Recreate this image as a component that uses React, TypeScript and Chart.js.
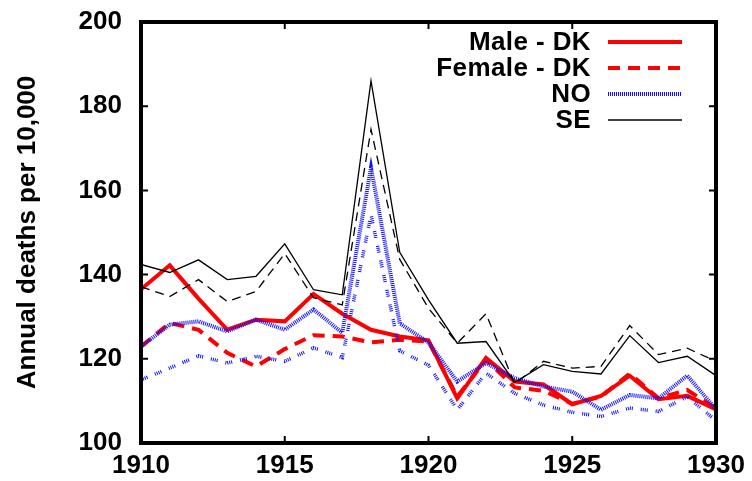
import React, { useEffect, useRef } from "react";
import { Chart, registerables } from "chart.js";

Chart.register(...registerables);

const years = [1910, 1911, 1912, 1913, 1914, 1915, 1916, 1917, 1918, 1919, 1920, 1921, 1922, 1923, 1924, 1925, 1926, 1927, 1928, 1929, 1930];
const maleDK = [136.5, 142.2, 134.3, 126.9, 129.3, 128.9, 135.4, 130.7, 126.9, 125.3, 124.4, 110.6, 120.2, 114.6, 113.9, 109.2, 111.2, 116.0, 110.4, 111.2, 108.0];
const femaleDK = [122.9, 128.5, 126.9, 121.4, 118.2, 122.3, 125.6, 125.3, 123.9, 124.5, 124.1, 111.0, 119.8, 113.2, 112.4, 109.3, 111.0, 116.5, 110.6, 112.6, 108.2];
const maleNO = [122.9, 128.1, 128.9, 126.5, 129.3, 126.9, 131.7, 126.2, 165.4, 128.4, 123.9, 114.6, 119.0, 115.4, 113.4, 112.2, 107.9, 111.4, 110.6, 116.0, 108.0];
const femaleNO = [115.0, 117.8, 120.7, 119.0, 120.6, 119.4, 122.6, 120.3, 154.2, 121.9, 118.5, 107.9, 116.6, 111.8, 109.0, 107.3, 106.3, 108.3, 107.5, 111.0, 105.3];
const maleSE = [142.4, 140.5, 143.5, 138.8, 139.6, 147.3, 136.4, 135.2, 186.0, 145.3, 134.0, 123.7, 124.1, 114.4, 118.6, 117.0, 116.4, 125.5, 119.1, 120.6, 116.0];
const femaleSE = [137.1, 134.8, 138.8, 133.6, 136.0, 145.0, 134.5, 132.8, 174.5, 143.6, 132.0, 123.7, 130.7, 114.0, 119.4, 117.8, 118.2, 127.9, 121.0, 122.5, 119.4];

const xTicks = [1910, 1915, 1920, 1925, 1930];
const yTicks = [100, 120, 140, 160, 180, 200];
const yTitle = "Annual deaths per 10,000";
const legendLabels = ["Male - DK", "Female - DK", "NO", "SE"];

const FONT = "'Liberation Sans', Arial, Helvetica, sans-serif";

const pts = (vals: number[]) => years.map((y, i) => ({ x: y, y: vals[i] }));

const RED = "#ff0000";
const BLUE = "#1010ff";

const legendStyles = [
  { color: RED, width: 4, dash: [] as number[] },
  { color: RED, width: 4, dash: [12, 8] },
  { color: BLUE, width: 4, dash: [1, 1] },
  { color: "#000000", width: 1.3, dash: [] as number[] },
];

const framePlugin = {
  id: "frame",
  afterDatasetsDraw(chart: any) {
    const ctx = chart.ctx;
    const { left, right, top, bottom } = chart.chartArea;
    const xs = chart.scales.x;
    const ys = chart.scales.y;
    ctx.save();
    ctx.strokeStyle = "#000";
    ctx.lineWidth = 4;
    ctx.strokeRect(left, top, right - left, bottom - top);
    ctx.lineWidth = 2;
    ctx.beginPath();
    xTicks.slice(1, -1).forEach((t) => {
      const px = xs.getPixelForValue(t);
      ctx.moveTo(px, bottom);
      ctx.lineTo(px, bottom - 7);
      ctx.moveTo(px, top);
      ctx.lineTo(px, top + 7);
    });
    yTicks.slice(1, -1).forEach((t) => {
      const py = ys.getPixelForValue(t);
      ctx.moveTo(left, py);
      ctx.lineTo(left + 7, py);
      ctx.moveTo(right, py);
      ctx.lineTo(right - 7, py);
    });
    ctx.stroke();
    ctx.restore();
  },
  afterDraw(chart: any) {
    const ctx = chart.ctx;
    const { top, bottom } = chart.chartArea;
    ctx.save();
    ctx.fillStyle = "#000";
    ctx.font = `bold 26px ${FONT}`;
    ctx.textAlign = "center";
    ctx.textBaseline = "middle";
    ctx.translate(28, (top + bottom) / 2);
    ctx.rotate(-Math.PI / 2);
    ctx.fillText(yTitle, 0, 0);
    ctx.restore();

    ctx.save();
    ctx.font = `bold 26px ${FONT}`;
    (ctx as any).letterSpacing = "0.4px";
    ctx.textAlign = "right";
    ctx.textBaseline = "middle";
    const rowY = [42, 68, 94, 120];
    legendLabels.forEach((lab, i) => {
      ctx.fillStyle = "#000";
      ctx.fillText(lab, 591, rowY[i] + 1);
      const st = legendStyles[i];
      ctx.strokeStyle = st.color;
      ctx.lineWidth = st.width;
      ctx.lineCap = "butt";
      ctx.setLineDash(st.dash);
      ctx.beginPath();
      ctx.moveTo(608, rowY[i]);
      ctx.lineTo(682, rowY[i]);
      ctx.stroke();
      ctx.setLineDash([]);
    });
    ctx.restore();
  },
};

export default function App() {
  const ref = useRef<HTMLCanvasElement | null>(null);
  useEffect(() => {
    if (!ref.current) return;
    const common = { pointRadius: 0, tension: 0, fill: false, borderCapStyle: "butt" as const };
    const chart = new Chart(ref.current, {
      type: "line",
      data: {
        datasets: [
          { ...common, label: "SE", data: pts(maleSE), borderColor: "#000", borderWidth: 1.3 },
          { ...common, label: "SE female", data: pts(femaleSE), borderColor: "#000", borderWidth: 1.3, borderDash: [9, 6] },
          { ...common, label: "NO female", data: pts(femaleNO), borderColor: BLUE, borderWidth: 3.5, borderDash: [1, 1, 1, 1, 1, 1, 1, 8] },
          { ...common, label: "NO", data: pts(maleNO), borderColor: BLUE, borderWidth: 4, borderDash: [1, 1] },
          { ...common, label: "Female - DK", data: pts(femaleDK), borderColor: RED, borderWidth: 4, borderDash: [12, 8] },
          { ...common, label: "Male - DK", data: pts(maleDK), borderColor: RED, borderWidth: 4 },
        ],
      },
      options: {
        responsive: false,
        animation: false,
        layout: { padding: { top: 22, right: 36, left: 0, bottom: 0 } },
        plugins: { legend: { display: false }, tooltip: { enabled: false } },
        scales: {
          x: {
            type: "linear",
            min: 1910,
            max: 1930,
            afterFit: (s: any) => { s.height = 38; s.paddingLeft = 0; s.paddingRight = 0; },
            afterBuildTicks: (s: any) => { s.ticks = xTicks.map((v) => ({ value: v })); },
            grid: { display: false, drawTicks: false },
            border: { display: false },
            ticks: {
              color: "#000",
              font: { family: FONT, size: 26, weight: "bold" },
              padding: 7,
              maxRotation: 0,
              autoSkip: false,
              callback: (v: any) => String(v),
            },
          },
          y: {
            min: 100,
            max: 200,
            afterFit: (s: any) => { s.width = 141; s.paddingTop = 0; s.paddingBottom = 0; },
            afterBuildTicks: (s: any) => { s.ticks = yTicks.map((v) => ({ value: v })); },
            grid: { display: false, drawTicks: false },
            border: { display: false },
            ticks: {
              color: "#000",
              font: { family: FONT, size: 26, weight: "bold" },
              padding: 19,
              autoSkip: false,
              callback: (v: any) => String(v),
            },
          },
        },
      },
      plugins: [framePlugin],
    });
    return () => chart.destroy();
  }, []);
  return (
    <div style={{ position: "fixed", left: 0, top: 0, width: 752, height: 481, background: "#fff" }}>
      <canvas ref={ref} width={752} height={481} style={{ width: 752, height: 481, display: "block" }} />
    </div>
  );
}
